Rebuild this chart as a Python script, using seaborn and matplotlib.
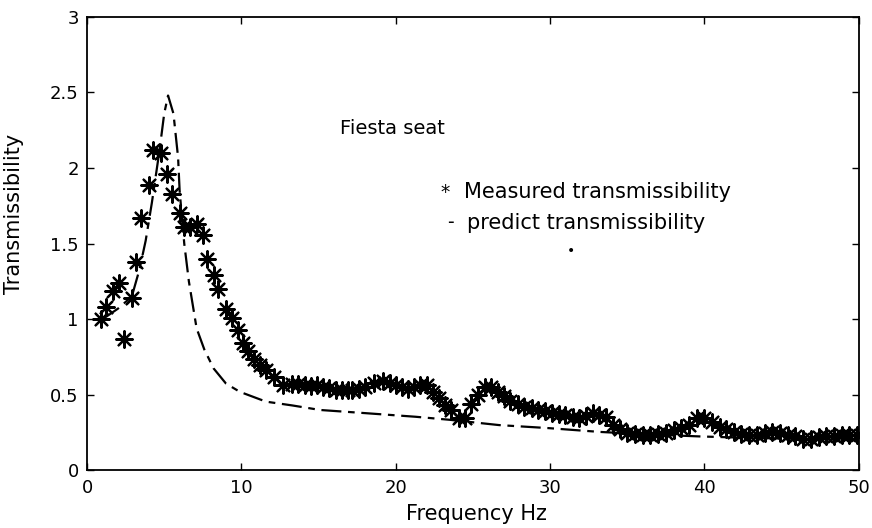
import numpy as np
import pandas as pd
import matplotlib
matplotlib.use("Agg")
import matplotlib.pyplot as plt
import seaborn as sns

# Measured transmissibility (stars)
meas_freq = [0.9, 1.2, 1.7, 2.1, 2.4, 2.9, 3.2, 3.5, 4.0, 4.3, 4.8, 5.2, 5.5, 6.0, 6.3, 6.7,
             7.1, 7.5, 7.8, 8.2, 8.5, 9.0, 9.4, 9.8, 10.1, 10.4, 10.8, 11.2, 11.6, 12.1,
             12.7, 13.3, 13.7, 14.1, 14.5, 14.9, 15.3, 15.7, 16.1, 16.5, 16.9, 17.2, 17.6,
             18.0, 18.6, 19.2, 19.6, 20.0, 20.4, 20.8, 21.2, 21.6, 22.0, 22.4, 22.8, 23.2,
             23.6, 24.1, 24.5, 24.9, 25.3, 25.8, 26.2, 26.6, 27.0, 27.4, 27.9, 28.3, 28.8,
             29.2, 29.7, 30.1, 30.6, 31.0, 31.5, 31.9, 32.3, 32.8, 33.2, 33.6, 34.1, 34.5,
             35.0, 35.5, 36.0, 36.5, 37.0, 37.5, 38.0, 38.5, 39.0, 39.5, 40.0, 40.5, 41.0,
             41.4, 41.9, 42.4, 42.9, 43.4, 43.9, 44.4, 44.9, 45.4, 45.9, 46.4, 46.9, 47.4,
             47.9, 48.4, 48.9, 49.4, 49.9]
meas_trans = [1.00, 1.08, 1.19, 1.24, 0.87, 1.14, 1.38, 1.67, 1.89, 2.12, 2.10, 1.96, 1.83,
              1.70, 1.61, 1.61, 1.63, 1.56, 1.40, 1.29, 1.20, 1.07, 1.01, 0.93, 0.84, 0.79,
              0.74, 0.70, 0.665, 0.62, 0.565, 0.575, 0.57, 0.565, 0.56, 0.565, 0.55, 0.545,
              0.535, 0.53, 0.53, 0.53, 0.54, 0.555, 0.58, 0.59, 0.58, 0.565, 0.55, 0.54,
              0.55, 0.565, 0.565, 0.52, 0.48, 0.43, 0.40, 0.35, 0.35, 0.44, 0.50, 0.55,
              0.55, 0.52, 0.49, 0.46, 0.44, 0.42, 0.41, 0.40, 0.39, 0.38, 0.375, 0.37,
              0.355, 0.345, 0.36, 0.38, 0.37, 0.355, 0.30, 0.275, 0.25, 0.24, 0.235, 0.235,
              0.24, 0.25, 0.265, 0.28, 0.30, 0.345, 0.345, 0.32, 0.29, 0.275, 0.255, 0.24,
              0.235, 0.235, 0.245, 0.255, 0.245, 0.235, 0.225, 0.21, 0.21, 0.22, 0.225,
              0.23, 0.235, 0.235, 0.235]

# Predicted transmissibility (dashed line)
pred_freq = [1.0, 2.0, 2.9, 3.4, 3.8, 4.2, 4.7, 5.0, 5.25, 5.6, 5.9, 6.0, 6.3, 6.6, 7.1,
             7.6, 8.2, 9.0, 9.9, 11.6, 13.3, 15.1, 17.9, 21.3, 23.5, 26.7, 29.9, 33.2,
             36.0, 39.7, 43.0, 46.0, 50.0]
pred_trans = [1.00, 1.07, 1.15, 1.33, 1.52, 1.77, 2.12, 2.36, 2.48, 2.36, 2.07, 1.85, 1.50,
              1.25, 0.94, 0.80, 0.675, 0.575, 0.52, 0.455, 0.43, 0.40, 0.38, 0.355, 0.335,
              0.30, 0.28, 0.255, 0.24, 0.225, 0.215, 0.21, 0.20]

x_ticks = [0, 10, 20, 30, 40, 50]
y_ticks = [0, 0.5, 1, 1.5, 2, 2.5, 3]
y_tick_labels = ["0", "0.5", "1", "1.5", "2", "2.5", "3"]

sns.set_theme(style="ticks")
plt.rcParams["font.family"] = ["DejaVu Sans"]
plt.rcParams["text.color"] = "black"
plt.rcParams["axes.labelcolor"] = "black"

fig = plt.figure(figsize=(8.72, 5.28), dpi=100)
ax = fig.add_axes([0.0998, 0.109, 0.885, 0.859])

meas_df = pd.DataFrame({"freq": meas_freq, "trans": meas_trans})
pred_df = pd.DataFrame({"freq": pred_freq, "trans": pred_trans})

sns.lineplot(data=pred_df, x="freq", y="trans", ax=ax, color="black",
             linewidth=1.6, dashes=False, sort=False)
ax.lines[-1].set_dashes([9, 3, 3, 3])

sns.scatterplot(data=meas_df, x="freq", y="trans", ax=ax, marker=(8, 2, 0),
                s=140, color="black", edgecolor="black", linewidth=1.6, zorder=3)

ax.set_xlim(0, 50)
ax.set_ylim(0, 3)
ax.set_xticks(x_ticks)
ax.set_xticklabels([str(t) for t in x_ticks])
ax.set_yticks(y_ticks)
ax.set_yticklabels(y_tick_labels)
ax.tick_params(direction="in", length=5, width=1, labelsize=13, colors="black",
               top=True, right=True, pad=6)
for s in ax.spines.values():
    s.set_color("black")
    s.set_linewidth(1.3)

ax.set_xlabel("Frequency Hz", fontsize=15, color="black")
ax.set_ylabel("Transmissibility", fontsize=15, color="black")
ax.yaxis.set_label_coords(-0.082, 0.565)
ax.xaxis.set_label_coords(0.505, -0.075)

ax.text(16.4, 2.26, "Fiesta seat", fontsize=14, va="center", ha="left", color="black")
ax.text(22.9, 1.84, "*", fontsize=13.5, va="center", ha="left", color="black")
ax.text(24.4, 1.84, "Measured transmissibility", fontsize=15, va="center", ha="left", color="black")
ax.text(23.3, 1.64, "-", fontsize=13.5, va="center", ha="left", color="black")
ax.text(24.6, 1.64, "predict transmissibility", fontsize=15, va="center", ha="left", color="black")
ax.text(31.1, 1.45, "•", fontsize=10, va="center", ha="left", color="black")

fig.savefig("out.png", dpi=100)
